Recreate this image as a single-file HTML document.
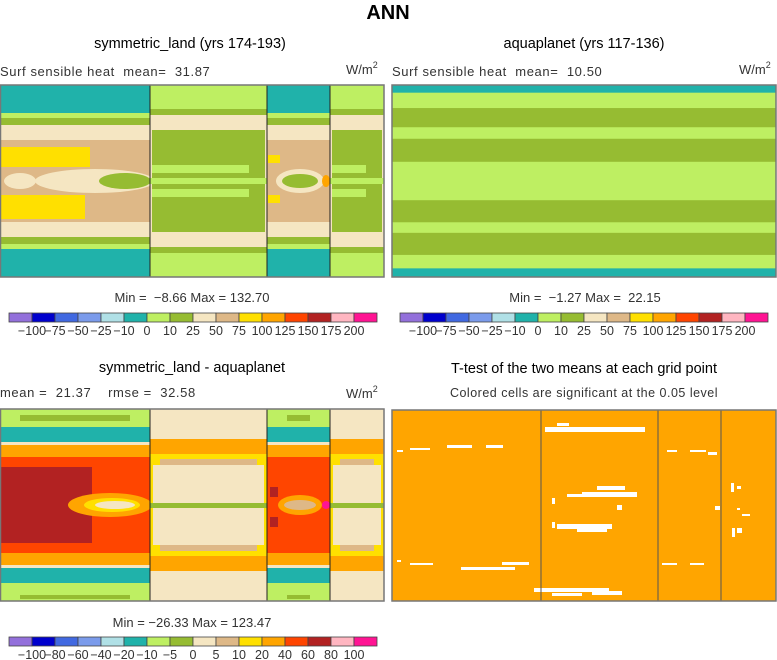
<!DOCTYPE html>
<html><head><meta charset="utf-8">
<style>
body{margin:0;background:#fff;width:777px;height:660px;overflow:hidden;font-family:"Liberation Sans",sans-serif;}
svg{display:block}
text{font-family:"Liberation Sans",sans-serif;white-space:pre}
</style></head>
<body>
<svg id="s" width="777" height="660" viewBox="0 0 777 660">
<text x="388" y="19" text-anchor="middle" font-size="20" font-weight="bold">ANN</text>

<text x="190" y="48" text-anchor="middle" font-size="14.5">symmetric_land (yrs 174-193)</text>
<text x="0" y="76" font-size="13" fill="#333" letter-spacing="0.6">Surf sensible heat&#160;&#160;mean=&#160;&#160;31.87</text>
<text x="346" y="74" font-size="13" fill="#333">W/m<tspan font-size="9" dy="-6">2</tspan></text>

<text x="584" y="48" text-anchor="middle" font-size="14.5">aquaplanet (yrs 117-136)</text>
<text x="392" y="76" font-size="13" fill="#333" letter-spacing="0.6">Surf sensible heat&#160;&#160;mean=&#160;&#160;10.50</text>
<text x="739" y="74" font-size="13" fill="#333">W/m<tspan font-size="9" dy="-6">2</tspan></text>

<text x="192" y="302" text-anchor="middle" font-size="13" fill="#333">Min =&#160;&#160;−8.66 Max = 132.70</text>
<text x="585" y="302" text-anchor="middle" font-size="13" fill="#333">Min =&#160;&#160;−1.27 Max =&#160;&#160;22.15</text>

<text x="192" y="372" text-anchor="middle" font-size="14.5">symmetric_land - aquaplanet</text>
<text x="0" y="397" font-size="13" fill="#333" letter-spacing="0.6">mean =&#160;&#160;21.37&#160;&#160;&#160;&#160;rmse =&#160;&#160;32.58</text>
<text x="346" y="398" font-size="13" fill="#333">W/m<tspan font-size="9" dy="-6">2</tspan></text>

<text x="584" y="373" text-anchor="middle" font-size="14.5">T-test of the two means at each grid point</text>
<text x="584" y="397" text-anchor="middle" font-size="12.5" fill="#333" letter-spacing="0.5">Colored cells are significant at the 0.05 level</text>

<text x="192" y="627" text-anchor="middle" font-size="13" fill="#333">Min = −26.33 Max = 123.47</text>

<g id="maps"></g>
</svg>
<script>
// colour bar data
const colors = ["#9370DB","#0000CD","#4169E1","#7B9BEB","#B0E0E6","#20B2AA","#BEEF62","#96BC32","#F5E6C2","#DEB887","#FFE000","#FFA500","#FF4500","#B22222","#FFB6C1","#FF1493"];
const levels1 = ["−100","−75","−50","−25","−10","0","10","25","50","75","100","125","150","175","200"];
const levels2 = ["−100","−80","−60","−40","−20","−10","−5","0","5","10","20","40","60","80","100"];
// aquaplanet latitude bands: [top fraction, bottom fraction, colour index]
const aquaBands = [[0,0.04,5],[0.04,0.12,6],[0.12,0.22,7],[0.22,0.28,6],[0.28,0.40,7],[0.40,0.60,6],[0.60,0.715,7],[0.715,0.77,6],[0.77,0.885,7],[0.885,0.955,6],[0.955,1,5]];

const NS="http://www.w3.org/2000/svg";
const root=document.getElementById('maps');
function el(tag,attrs,parent){const e=document.createElementNS(NS,tag);for(const k in attrs)e.setAttribute(k,attrs[k]);(parent||root).appendChild(e);return e;}

function colorbar(x0,x1,y,labels,name){
  const g=el('g',{});
  
  
  const w=(x1-x0)/colors.length;
  colors.forEach((c,i)=>{
    const r=el('rect',{x:x0+i*w,y:y,width:w,height:9,fill:c,stroke:'#444','stroke-width':0.8},g);
    
    
  });
  labels.forEach((l,i)=>{
    const t=el('text',{x:x0+(i+1)*w,y:y+22,'text-anchor':'middle','font-size':12.5,fill:'#333'},g);
    t.textContent=l;
    
    
  });
}
colorbar(9,377,313,levels1,'colorbar-panel1');
colorbar(400,768,313,levels1,'colorbar-panel2');
colorbar(9,377,637,levels2,'colorbar-panel3');

function C(i){return colors[i];}
function R(g,x,y,w,h,ci,extra){const r=el('rect',Object.assign({x:x,y:y,width:w,height:h,fill:typeof ci==='number'?C(ci):ci},extra||{}),g);return r;}
function E(g,cx,cy,rx,ry,ci){return el('ellipse',{cx:cx,cy:cy,rx:rx,ry:ry,fill:typeof ci==='number'?C(ci):ci},g);}

// ---- Panel 1: symmetric_land ----
(function(){
  const g=el('g',{});
  
  
  const y0=85,H=192;
  function landCol(x,w){
    R(g,x,y0,w,H,5);
    R(g,x,y0+28,w,H-56,6);
    R(g,x,y0+33,w,H-66,7);
    R(g,x,y0+40,w,H-80,8);
    R(g,x,y0+55,w,H-110,9);
  }
  function oceanCol(x,w){
    R(g,x,y0,w,H,6);
    R(g,x,y0+24,w,H-48,7);
    R(g,x,y0+30,w,H-60,8);
    R(g,x+2,y0+45,w-4,H-90,7);
    R(g,x+2,y0+80,w-20,8,6);
    R(g,x+2,y0+104,w-20,8,6);
    R(g,x,y0+93,w,6,6);
  }
  landCol(0,150);
  R(g,0,y0+62,90,20,10); R(g,0,y0+110,85,24,10);
  E(g,95,y0+96,60,12,8); E(g,125,y0+96,26,8,7);
  E(g,20,y0+96,16,8,8);
  oceanCol(150,117);
  landCol(267,63);
  E(g,300,y0+96,24,12,8); E(g,300,y0+96,18,7,7);
  R(g,268,y0+70,12,8,10); R(g,268,y0+110,12,8,10);
  E(g,326,y0+96,4,6,11);
  oceanCol(330,54);
  [150,267,330].forEach(x=>{const l=el('line',{x1:x,y1:y0,x2:x,y2:y0+H,stroke:'#222','stroke-width':1},g);});
  R(g,0.5,y0,383.5,H,'none',{stroke:'#777','stroke-width':1.5});
})();

// ---- Panel 2: aquaplanet bands ----
(function(){
  const g=el('g',{});
  
  
  const x0=392,W=384,y0=85,H=192;
  aquaBands.forEach(b=>{
    const r=R(g,x0,y0+b[0]*H,W,(b[1]-b[0])*H+0.5,b[2]);
    
    
  });
  R(g,x0,y0,W,H,'none',{stroke:'#777','stroke-width':1.5});
})();

// ---- Panel 3: difference ----
(function(){
  const g=el('g',{});
  
  
  const y0=409,H=192;
  function landCol(x,w){
    R(g,x,y0,w,H,6);
    R(g,x+20,y0+6,w-40,6,7);
    R(g,x,y0+18,w,H-36,5);
    R(g,x,y0+33,w,H-66,8);
    R(g,x,y0+36,w,H-72,11);
    R(g,x,y0+48,w,H-96,12);
    R(g,x,y0+H-10,w,10,6);
    R(g,x+20,y0+H-6,w-40,4,7);
  }
  function oceanCol(x,w){
    R(g,x,y0,w,H,8);
    R(g,x,y0+30,w,H-60,11);
    R(g,x,y0+45,w,H-90,10);
    R(g,x+3,y0+56,w-6,H-112,8);
    R(g,x+10,y0+50,w-20,6,9);
    R(g,x+10,y0+H-56,w-20,6,9);
    R(g,x,y0+94,w,5,7);
  }
  landCol(0,150);
  R(g,0,y0+58,92,76,13);
  E(g,110,y0+96,42,12,11); E(g,112,y0+96,28,7,10); E(g,115,y0+96,20,4,8);
  oceanCol(150,117);
  landCol(267,63);
  R(g,270,y0+78,8,10,13); R(g,270,y0+108,8,10,13);
  E(g,300,y0+96,22,10,11); E(g,300,y0+96,16,5,9);
  E(g,326,y0+96,4,4,15);
  oceanCol(330,54);
  [150,267,330].forEach(x=>{const l=el('line',{x1:x,y1:y0,x2:x,y2:y0+H,stroke:'#222','stroke-width':1},g);});
  R(g,0.5,y0,383.5,H,'none',{stroke:'#777','stroke-width':1.5});
})();

// ---- Panel 4: T-test ----
(function(){
  const g=el('g',{});
  
  
  const x0=392,y0=410,H=191,W=384;
  R(g,x0,y0,W,H,'#FFA500');
  const gaps=[[18,38,20,2],[55,35,25,3],[94,35,17,3],[5,40,6,2],[18,153,23,2],[69,157,54,3],[110,152,27,3],[5,150,4,2],
    [153,17,100,5],[165,13,12,3],[190,82,55,5],[175,84,18,3],[205,76,28,4],[160,88,3,6],[165,114,55,5],[185,118,30,4],[160,112,3,6],[225,95,5,5],
    [142,178,75,4],[160,183,30,3],[200,181,30,4],
    [275,40,10,2],[298,40,16,2],[270,153,15,2],[298,153,14,2],
    [316,42,9,3],[323,96,5,4],[339,73,3,9],[345,76,4,3],[340,118,3,9],[345,118,5,5],[345,98,3,2],[350,104,8,2]];
  gaps.forEach(d=>{
    const r=R(g,x0+d[0],y0+d[1],d[2],d[3],'#fff');
    
    
  });
  [541,658,721].forEach(x=>{const l=el('line',{x1:x,y1:y0,x2:x,y2:y0+H,stroke:'#555','stroke-width':1},g);});
  R(g,x0,y0,W,H,'none',{stroke:'#777','stroke-width':1.5});
})();
</script>
</body></html>
